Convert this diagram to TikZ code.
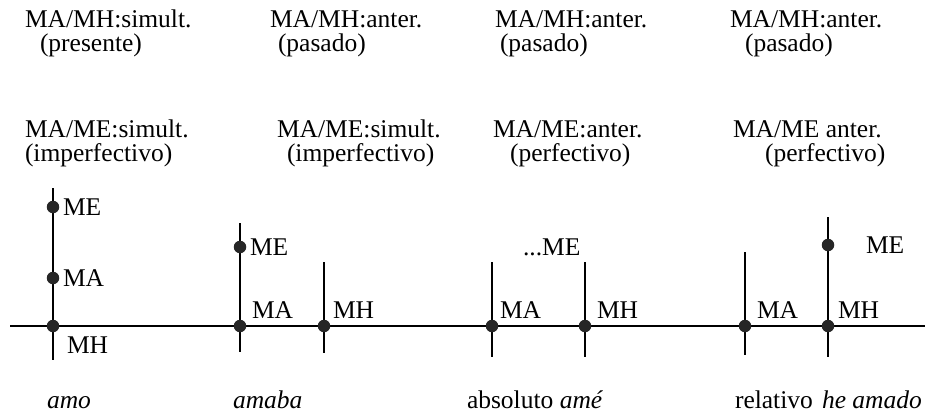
\documentclass[tikz,border=0pt]{standalone}
\usepackage{fontspec}
\setmainfont{Liberation Serif}
\begin{document}
\begin{tikzpicture}[x=1pt,y=-1pt,
  lbl/.style={font=\fontsize{25.5}{30}\selectfont, inner sep=0pt, outer sep=0pt},
  txt/.style={lbl, anchor=base west},
  side/.style={lbl, anchor=west},
  pt/.style={circle, fill=black!85, minimum size=12.5pt, inner sep=0pt, outer sep=0pt},
  tick/.style={line width=1.3pt},
  axisline/.style={line width=1.8pt}]
\useasboundingbox (0,0) rectangle (925,416);

% ---- headings: MA/MH relation ----
\node[txt] (h1) at (25,27)  {MA/MH:simult.};
\node[txt] (h2) at (270,27) {MA/MH:anter.};
\node[txt] (h3) at (495,27) {MA/MH:anter.};
\node[txt] (h4) at (730,27) {MA/MH:anter.};
\node[txt] (p1) at (40,51)  {(presente)};
\node[txt] (p2) at (278,51) {(pasado)};
\node[txt] (p3) at (500,51) {(pasado)};
\node[txt] (p4) at (745,51) {(pasado)};

% ---- headings: MA/ME relation ----
\node[txt] (e1) at (25,137)  {MA/ME:simult.};
\node[txt] (e2) at (277,137) {MA/ME:simult.};
\node[txt] (e3) at (493,137) {MA/ME:anter.};
\node[txt] (e4) at (733,137) {MA/ME anter.};
\node[txt] (a1) at (25,161)  {(imperfectivo)};
\node[txt] (a2) at (287,161) {(imperfectivo)};
\node[txt] (a3) at (510,161) {(perfectivo)};
\node[txt] (a4) at (765,161) {(perfectivo)};

% ---- time axis ----
\coordinate (axL) at (10,326);
\coordinate (axR) at (925,326);
\draw[axisline] (axL) -- (axR);

% ---- vertical markers ----
\coordinate (v1t) at (53,188);  \coordinate (v1b) at (53,360);
\coordinate (v2t) at (240,223); \coordinate (v2b) at (240,352);
\coordinate (v3t) at (324,262); \coordinate (v3b) at (324,353);
\coordinate (v4t) at (492,262); \coordinate (v4b) at (492,357);
\coordinate (v5t) at (585,262); \coordinate (v5b) at (585,357);
\coordinate (v6t) at (745,252); \coordinate (v6b) at (745,355);
\coordinate (v7t) at (828,217); \coordinate (v7b) at (828,357);
\foreach \i in {1,...,7} { \draw[tick] (v\i t) -- (v\i b); }

% ---- points ----
\node[pt] (amoME)   at (53,207) {};
\node[pt] (amoMA)   at (53,278) {};
\node[pt] (amoMH)   at (53,326) {};
\node[pt] (amabaME) at (240,247) {};
\node[pt] (amabaMA) at (240,326) {};
\node[pt] (amabaMH) at (324,326) {};
\node[pt] (absMA)   at (492,326) {};
\node[pt] (absMH)   at (585,326) {};
\node[pt] (relMA)   at (745,326) {};
\node[pt] (relMH)   at (828,326) {};
\node[pt] (relME)   at (828,245) {};

% ---- point labels ----
\node[side] (lamoME)   at (63,207)  {ME};
\node[side] (lamoMA)   at (63,278)  {MA};
\node[txt]  (lamoMH)   at (67,353)  {MH};
\node[side] (lamabaME) at (250,247) {ME};
\node[txt]  (lamabaMA) at (252,318) {MA};
\node[txt]  (lamabaMH) at (333,318) {MH};
\node[txt]  (labsDots) at (523,255) {...ME};
\node[txt]  (labsMA)   at (500,318) {MA};
\node[txt]  (labsMH)   at (597,318) {MH};
\node[txt]  (lrelMA)   at (757,318) {MA};
\node[txt]  (lrelMH)   at (838,318) {MH};
\node[side] (lrelME)   at (866,245) {ME};

% ---- tense names ----
\node[txt] (nAmo)   at (47,408)  {\itshape amo};
\node[txt] (nAmaba) at (233,408) {\itshape amaba};
\node[txt] (nAbs)   at (467,408) {absoluto \textit{amé}};
\node[txt] (nRel)   at (735,408) {relativo};
\node[txt] (nHe)    at (822,408) {\itshape he amado};
\end{tikzpicture}
\end{document}
